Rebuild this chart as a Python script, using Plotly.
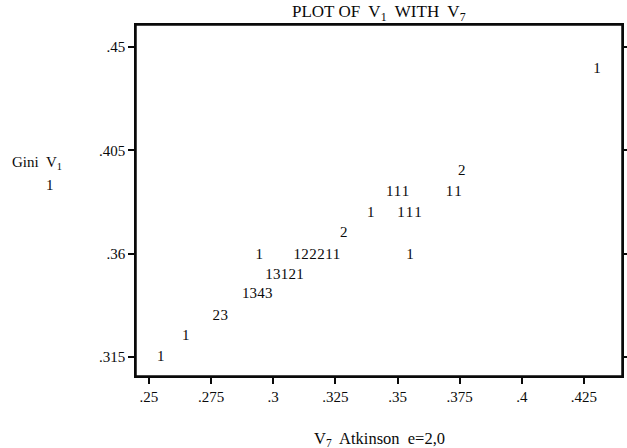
import plotly.graph_objects as go

# Each printed character cell: x (V7 Atkinson e=2,0), y (Gini V1), count digit
cell_x = [0.2548, 0.2648, 0.2771, 0.2803,
          0.2889, 0.2920, 0.2951, 0.2982,
          0.2983, 0.3014, 0.3045, 0.3077, 0.3108,
          0.2944, 0.3097, 0.3128, 0.3160, 0.3192, 0.3224, 0.3255, 0.3550,
          0.3284,
          0.3392, 0.3514, 0.3548, 0.3582,
          0.3469, 0.3500, 0.3532, 0.3709, 0.3743,
          0.3758,
          0.4302]
cell_y = [0.3150, 0.3239, 0.3329, 0.3329,
          0.3425, 0.3425, 0.3425, 0.3425,
          0.3507, 0.3507, 0.3507, 0.3507, 0.3507,
          0.3594, 0.3594, 0.3594, 0.3594, 0.3594, 0.3594, 0.3594, 0.3594,
          0.3690,
          0.3777, 0.3777, 0.3777, 0.3777,
          0.3869, 0.3869, 0.3869, 0.3869, 0.3869,
          0.3960,
          0.4404]
cell_count = ["1", "1", "2", "3",
              "1", "3", "4", "3",
              "1", "3", "1", "2", "1",
              "1", "1", "2", "2", "2", "1", "1", "1",
              "2",
              "1", "1", "1", "1",
              "1", "1", "1", "1", "1",
              "2",
              "1"]

x_ticks = [0.25, 0.275, 0.3, 0.325, 0.35, 0.375, 0.4, 0.425]
x_labels = [".25", ".275", ".3", ".325", ".35", ".375", ".4", ".425"]
y_ticks = [0.315, 0.36, 0.405, 0.45]
y_labels = [".315", ".36", ".405", ".45"]

FONT = "Liberation Serif"
INK = "#0a0a0a"

fig = go.Figure()
fig.add_trace(go.Scatter(
    x=cell_x, y=cell_y, text=cell_count, mode="text",
    textposition="middle center",
    textfont=dict(family=FONT, size=15, color=INK),
    hoverinfo="x+y+text", showlegend=False,
))

axis_common = dict(
    showgrid=False, zeroline=False, showline=True, linecolor=INK, linewidth=1.5,
    ticks="outside", ticklen=6, tickwidth=1.5, tickcolor=INK,
    tickfont=dict(family=FONT, size=15, color=INK),
)
fig.update_layout(
    width=627, height=448,
    margin=dict(l=136, r=5, t=25, b=72, autoexpand=False),
    paper_bgcolor="white", plot_bgcolor="white",
    xaxis=dict(range=[0.2448, 0.4403], tickvals=x_ticks, ticktext=x_labels,
               mirror=True, **axis_common),
    yaxis=dict(range=[0.3067, 0.4596], tickvals=y_ticks, ticktext=y_labels,
               mirror="ticks", **axis_common),
    shapes=[dict(type="rect", xref="paper", yref="paper", x0=0, y0=0, x1=1, y1=1,
                 line=dict(color=INK, width=1.5), fillcolor="rgba(0,0,0,0)", layer="above")],
    annotations=[
        dict(text="PLOT OF  V<sub>1</sub>  WITH  V<sub>7</sub>", xref="paper", yref="paper",
             x=0.5, y=1.0, yshift=12, xanchor="center", yanchor="middle", showarrow=False,
             font=dict(family=FONT, size=17, color=INK)),
        dict(text="V<sub>7</sub>  Atkinson  e=2,0", xref="paper", yref="paper",
             x=0.5, y=0, yshift=-63, xanchor="center", yanchor="middle", showarrow=False,
             font=dict(family=FONT, size=16.5, color=INK)),
        dict(text="Gini  V<sub>1</sub>", xref="paper", yref="paper", x=0, xshift=-99,
             y=1, yshift=-138, xanchor="center", yanchor="middle", showarrow=False,
             font=dict(family=FONT, size=15, color=INK)),
        dict(text="1", xref="paper", yref="paper", x=0, xshift=-86,
             y=1, yshift=-160, xanchor="center", yanchor="middle", showarrow=False,
             font=dict(family=FONT, size=15, color=INK)),
    ],
)
fig.write_html("out.html", config={"displayModeBar": False},
               post_script="document.body.style.margin='0';")
